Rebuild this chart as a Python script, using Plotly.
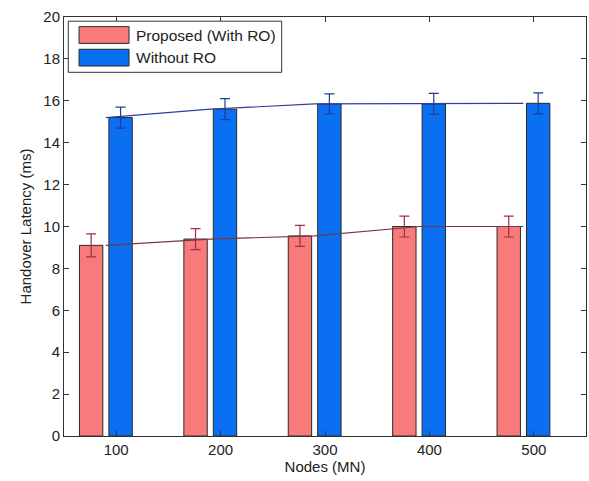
import plotly.graph_objects as go

# ---- data ----
nodes = [100, 200, 300, 400, 500]
tick_labels = ["100", "200", "300", "400", "500"]
series_names = ["Proposed (With RO)", "Without RO"]
proposed = [9.1, 9.4, 9.55, 10.0, 10.0]
proposed_err = [0.55, 0.5, 0.5, 0.5, 0.5]
without_ro = [15.2, 15.6, 15.85, 15.85, 15.88]
without_err = [0.5, 0.5, 0.48, 0.5, 0.5]

# ---- styles ----
red_fill = "#F87A7A"
blue_fill = "#0B6FF2"
red_dark = "#9A3040"
blue_dark = "#1E3C9A"
red_line = "#7A3545"
blue_line = "#2F3F9F"
bar_w = 22.4
font = "Liberation Sans, Arial, sans-serif"

fig = go.Figure()

fig.add_trace(go.Bar(
    x=nodes, y=proposed, name=series_names[0], width=bar_w, offset=-35.2,
    marker=dict(color=red_fill, line=dict(color="#2a2a2a", width=1)),
    error_y=dict(type="data", array=proposed_err, color=red_dark, thickness=1.2, width=5),
    showlegend=False,
))
fig.add_trace(go.Bar(
    x=nodes, y=without_ro, name=series_names[1], width=bar_w, offset=-7.0,
    marker=dict(color=blue_fill, line=dict(color="#2a2a2a", width=1)),
    error_y=dict(type="data", array=without_err, color=blue_dark, thickness=1.2, width=5),
    showlegend=False,
))

group_shift = -10
fig.add_trace(go.Scatter(
    x=[n + group_shift for n in nodes], y=proposed, mode="lines",
    line=dict(color=red_line, width=1.2), showlegend=False, hoverinfo="skip",
))
fig.add_trace(go.Scatter(
    x=[n + group_shift for n in nodes], y=without_ro, mode="lines",
    line=dict(color=blue_line, width=1.2), showlegend=False, hoverinfo="skip",
))

# ---- custom legend (MATLAB style) ----
shapes = [
    dict(type="rect", xref="paper", yref="paper", x0=0.0082, x1=0.417, y0=0.868, y1=0.990,
         line=dict(color="#333333", width=1), fillcolor="white", layer="above"),
    dict(type="rect", xref="paper", yref="paper", x0=0.0288, x1=0.1246, y0=0.937, y1=0.977,
         line=dict(color="#2a2a2a", width=1), fillcolor=red_fill, layer="above"),
    dict(type="rect", xref="paper", yref="paper", x0=0.0288, x1=0.1246, y0=0.883, y1=0.923,
         line=dict(color="#2a2a2a", width=1), fillcolor=blue_fill, layer="above"),
]
annotations = [
    dict(xref="paper", yref="paper", x=0.134, y=0.957, xanchor="left", yanchor="middle",
         text=series_names[0], showarrow=False, font=dict(family=font, size=15.5, color="#222")),
    dict(xref="paper", yref="paper", x=0.134, y=0.903, xanchor="left", yanchor="middle",
         text=series_names[1], showarrow=False, font=dict(family=font, size=15.5, color="#222")),
]

fig.update_layout(
    width=589, height=481,
    margin=dict(l=64, r=3, t=17, b=45),
    paper_bgcolor="white", plot_bgcolor="white",
    barmode="overlay",
    font=dict(family=font, size=15, color="#222"),
    shapes=shapes, annotations=annotations,
    showlegend=False,
)
fig.update_xaxes(
    range=[50, 550], tickvals=nodes, ticktext=tick_labels,
    ticks="inside", ticklen=5, tickcolor="#333", mirror="ticks",
    showline=True, linecolor="#333", linewidth=1, showgrid=False, zeroline=False,
    title=dict(text="Nodes (MN)", standoff=3, font=dict(size=15)),
    tickfont=dict(size=15),
)
fig.update_yaxes(
    range=[0, 20], tickvals=list(range(0, 21, 2)),
    ticks="inside", ticklen=5, tickcolor="#333", mirror="ticks",
    showline=True, linecolor="#333", linewidth=1, showgrid=False, zeroline=False,
    title=dict(text="Handover Latency (ms)", standoff=8, font=dict(size=15)),
    tickfont=dict(size=15),
)

fig.write_html(
    "out.html",
    config={"displayModeBar": False},
    post_script="document.body.style.margin='0';document.body.style.padding='0';",
)
